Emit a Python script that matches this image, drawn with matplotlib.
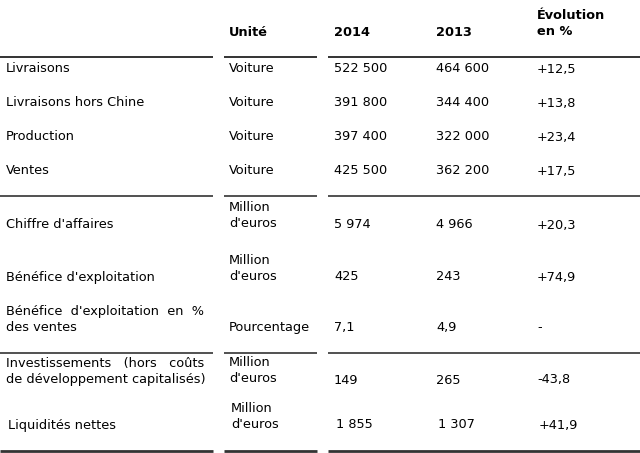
import matplotlib
matplotlib.use("Agg")
import matplotlib.pyplot as plt

# ---- data ----
row_labels = ["Livraisons", "Livraisons hors Chine", "Production", "Ventes",
              "Chiffre d'affaires", "Bénéfice d'exploitation",
              "Bénéfice  d'exploitation  en  %\ndes ventes",
              "Investissements   (hors   coûts\nde développement capitalisés)",
              "Liquidités nettes"]
units = ["Voiture", "Voiture", "Voiture", "Voiture",
         "Million\nd'euros", "Million\nd'euros", "Pourcentage",
         "Million\nd'euros", "Million\nd'euros"]
values_2014 = ["522 500", "391 800", "397 400", "425 500", "5 974", "425", "7,1", "149", "1 855"]
values_2013 = ["464 600", "344 400", "322 000", "362 200", "4 966", "243", "4,9", "265", "1 307"]
evolution = ["+12,5", "+13,8", "+23,4", "+17,5", "+20,3", "+74,9", "-", "-43,8", "+41,9"]
headers = ["", "Unité", "2014", "2013", "Évolution\nen %"]

# ---- layout (pixel coordinates) ----
W, H = 640, 453
fig = plt.figure(figsize=(6.4, 4.53), dpi=100)
ax = fig.add_axes([0, 0, 1, 1])
ax.set_xlim(0, W)
ax.set_ylim(H, 0)
ax.axis("off")

FS = 9.3
col_x = [6, 229, 334, 436, 537]
# row positions: (label y, unit y, value y) -- centers
row_label_y = [69, 103, 137, 171, 225, 277, 319.5, 371, 425]
row_unit_y = [69, 103, 137, 171, 215.5, 268.5, 328, 371, 416]
row_val_y = [69, 103, 137, 171, 225, 277, 328, 380, 425]
val_dx = [0, 0, 0, 0, 0, 0, 0, 0, 2]
label_dx = [0, 0, 0, 0, 0, 0, 0, 0, 2]
unit_dx = [0, 0, 0, 0, 0, 0, 0, 0, 2]

# headers
ax.text(col_x[1], 32, headers[1], fontsize=FS, fontweight="bold", va="center", ha="left")
ax.text(col_x[2], 32, headers[2], fontsize=FS, fontweight="bold", va="center", ha="left")
ax.text(col_x[3], 32, headers[3], fontsize=FS, fontweight="bold", va="center", ha="left")
ax.text(col_x[4], 23.5, headers[4], fontsize=FS, fontweight="bold", va="center", ha="left",
        linespacing=1.3)

for i in range(len(row_labels)):
    ax.text(col_x[0] + label_dx[i], row_label_y[i], row_labels[i], fontsize=FS,
            va="center", ha="left", linespacing=1.3)
    ax.text(col_x[1] + unit_dx[i], row_unit_y[i], units[i], fontsize=FS,
            va="center", ha="left", linespacing=1.3)
    ax.text(col_x[2] + val_dx[i], row_val_y[i], values_2014[i], fontsize=FS, va="center", ha="left")
    ax.text(col_x[3] + val_dx[i], row_val_y[i], values_2013[i], fontsize=FS, va="center", ha="left")
    ax.text(col_x[4] + val_dx[i], row_val_y[i], evolution[i], fontsize=FS, va="center", ha="left")

# rules
segments = [(0, 213), (224, 317), (328, 640)]
for y, lw in [(57, 1.4), (196, 1.2), (353, 1.2), (451, 2.0)]:
    for x0, x1 in segments:
        ax.plot([x0, x1], [y, y], color="#333333", lw=lw, solid_capstyle="butt")

fig.savefig("out.png", dpi=100)
